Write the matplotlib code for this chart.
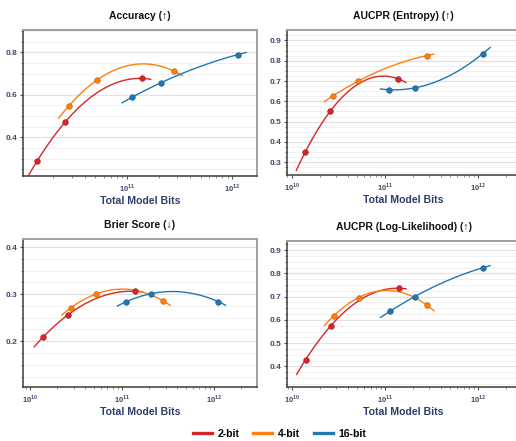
import numpy as np
import matplotlib
matplotlib.use('Agg')
import matplotlib.pyplot as plt
from matplotlib.lines import Line2D
from matplotlib.ticker import AutoMinorLocator, LogLocator, FuncFormatter, MultipleLocator

plt.rcParams['font.family'] = ['Liberation Sans', 'DejaVu Sans']
plt.rcParams['mathtext.fontset'] = 'custom'
plt.rcParams['mathtext.rm'] = 'Liberation Sans:bold'
plt.rcParams['mathtext.bf'] = 'Liberation Sans:bold'

# model sizes (billions of params) and bit widths
params_b = [7, 13, 70]
bit_widths = [2, 4, 16]
bit_names = ['2-bit', '4-bit', '16-bit']
colors = ['#d62728', '#ff7f0e', '#1f77b4']
edge_colors = ['#a82022', '#c8650d', '#1a6399']

acc_2 = [0.288, 0.473, 0.677]
acc_4 = [0.548, 0.670, 0.711]
acc_16 = [0.589, 0.656, 0.789]

ent_2 = [0.351, 0.552, 0.710]
ent_4 = [0.628, 0.700, 0.825]
ent_16 = [0.657, 0.666, 0.834]

brier_2 = [0.209, 0.256, 0.306]
brier_4 = [0.271, 0.300, 0.286]
brier_16 = [0.284, 0.301, 0.284]

ll_2 = [0.429, 0.574, 0.736]
ll_4 = [0.617, 0.696, 0.664]
ll_16 = [0.636, 0.700, 0.824]

titles = ['Accuracy (↑)', 'AUCPR (Entropy) (↑)', 'Brier Score (↓)', 'AUCPR (Log-Likelihood) (↑)']
series = [[acc_2, acc_4, acc_16], [ent_2, ent_4, ent_16],
          [brier_2, brier_4, brier_16], [ll_2, ll_4, ll_16]]

W, H = 516, 441
fig = plt.figure(figsize=(W / 100, H / 100), dpi=100)


def rect(l, r, t, b):
    return [l / W, 1 - b / H, (r - l) / W, (b - t) / H]


rects = [rect(23, 257, 30, 176), rect(287, 520, 30, 175),
         rect(23, 257, 239, 387), rect(287, 520, 241, 387)]
ylims = [(0.218, 0.905), (0.2375, 0.951), (0.103, 0.417), (0.3115, 0.939)]
ysteps = [0.2, 0.1, 0.1, 0.1]
xlims = [(10.013, 12.233), (9.95, 12.45), (9.927, 12.47), (9.946, 12.45)]

tick_col = '#3e4a68'
label_col = '#2f3f68'

for i in range(4):
    ax = fig.add_axes(rects[i])
    ax.set_xscale('log')
    for k in range(3):
        x = np.array(params_b) * bit_widths[k] * 1e9
        y = np.array(series[i][k])
        coef = np.polyfit(np.log10(x), y, 2)
        xs = np.logspace(np.log10(x.min() * 0.8), np.log10(x.max() * 1.2), 200)
        ax.plot(xs, np.polyval(coef, np.log10(xs)), color=colors[k], lw=1.0, zorder=3)
        ax.plot(x, y, 'o', color=colors[k], mec=edge_colors[k], mew=0.5, ms=4, zorder=4)

    ax.set_xlim(10 ** xlims[i][0], 10 ** xlims[i][1])
    ax.set_ylim(*ylims[i])
    ax.yaxis.set_major_locator(MultipleLocator(ysteps[i]))
    ax.yaxis.set_minor_locator(AutoMinorLocator(4))
    ax.yaxis.set_major_formatter(FuncFormatter(lambda v, p: f'{v:.1f}'))
    ax.xaxis.set_major_locator(LogLocator(base=10, numticks=10))
    ax.xaxis.set_minor_locator(LogLocator(base=10, subs=np.arange(2, 10), numticks=10))
    ax.xaxis.set_major_formatter(FuncFormatter(lambda v, p: f'$10^{{{int(round(np.log10(v)))}}}$'))

    ax.grid(axis='y', which='major', color='#e2e2e2', lw=0.9, zorder=0)
    ax.grid(axis='y', which='minor', color='#f0f0f0', lw=0.7, zorder=0)
    ax.set_axisbelow(True)

    ax.tick_params(axis='y', which='major', length=2.5, width=0.8, pad=1.5,
                   labelsize=6, labelcolor=tick_col, color='#555555')
    ax.tick_params(axis='y', which='minor', length=1.5, width=0.6, color='#777777')
    ax.tick_params(axis='x', which='major', length=2.5, width=0.8, pad=2,
                   labelsize=5.5, labelcolor=tick_col, color='#555555')
    ax.tick_params(axis='x', which='minor', length=1.5, width=0.6, color='#777777')
    for lab in ax.get_yticklabels():
        lab.set_fontweight('bold')

    for side in ['left', 'bottom']:
        ax.spines[side].set_color('#3a3a3a')
        ax.spines[side].set_linewidth(1.1)
    for side in ['top', 'right']:
        ax.spines[side].set_color('#a0a0a0')
        ax.spines[side].set_linewidth(1.4)

    ax.set_title(titles[i], fontsize=7.5, fontweight='bold', color='#111111', pad=8)
    ax.set_xlabel('Total Model Bits', fontsize=7.6, fontweight='bold', color=label_col, labelpad=1)

handles = [Line2D([0], [0], color=c, lw=2.4) for c in colors]
fig.legend(handles, bit_names, loc='center', bbox_to_anchor=(0.542, 0.016), ncol=3,
           frameon=False, handlelength=1.8, handletextpad=0.55, columnspacing=1.3,
           prop={'weight': 'bold', 'size': 7.6})

fig.savefig('out.png', dpi=100)
